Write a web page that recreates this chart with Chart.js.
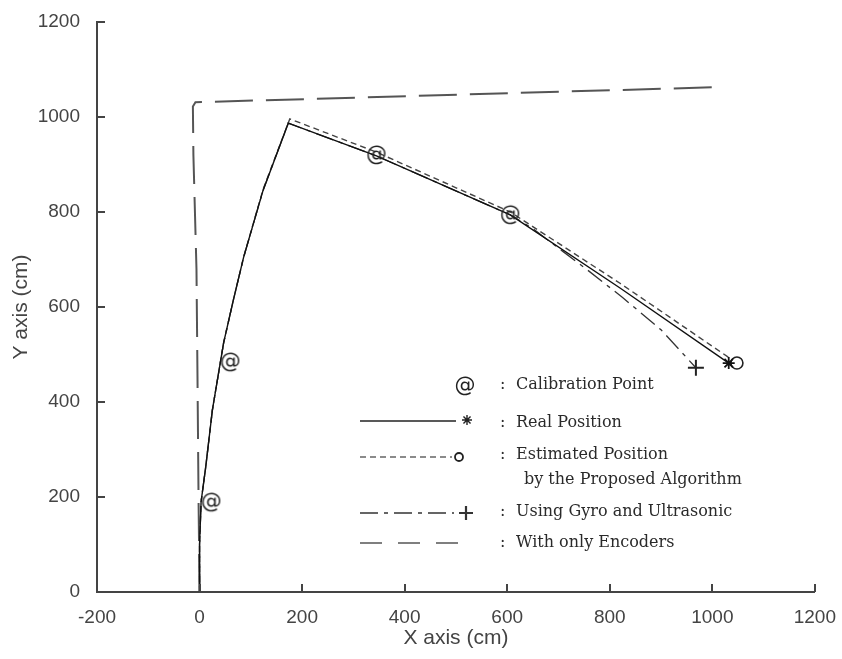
<!DOCTYPE html>
<html>
<head>
<meta charset="utf-8">
<script src="https://cdn.jsdelivr.net/npm/chart.js@4.4.1/dist/chart.umd.min.js"></script>
<style>
  html, body { margin: 0; padding: 0; background: #fff; }
</style>
</head>
<body>
<canvas id="myChart" width="842" height="659"></canvas>
<script>
// 軸の目盛り
const xTicks = [-200, 0, 200, 400, 600, 800, 1000, 1200];
const yTicks = [0, 200, 400, 600, 800, 1000, 1200];

// Calibration Point (@)
const calibX = [23, 60, 345, 606];
const calibY = [189, 484, 920, 794];

// Real Position (solid, *)
const realX = [0, 0, 3, 12, 25, 47, 66, 86, 124, 173, 345, 606, 820, 1032];
const realY = [0, 100, 190, 263, 383, 525, 615, 705, 846, 987, 918, 794, 640, 482];

// Estimated Position (dashed, o)
const estX = [0, 0, 3, 12, 25, 47, 66, 86, 124, 176, 345, 606, 820, 1048];
const estY = [0, 100, 190, 263, 383, 525, 615, 705, 848, 996, 926, 800, 650, 482];

// Using Gyro and Ultrasonic (dash-dot, +)
const gyroX = [0, 0, 3, 12, 25, 47, 66, 86, 124, 173, 345, 606, 650, 700, 760, 825, 900, 968];
const gyroY = [0, 100, 190, 263, 383, 525, 615, 705, 846, 987, 918, 794, 765, 724, 675, 620, 552, 472];

// With only Encoders (long dash)
const encX = [0, -2, -4, -6, -12, -13, -8, 1015];
const encY = [0, 200, 450, 680, 920, 1022, 1031, 1063];

// 凡例の文字
const legendTexts = [
  ['Calibration Point'],
  ['Real Position'],
  ['Estimated Position', 'by the Proposed Algorithm'],
  ['Using Gyro and Ultrasonic'],
  ['With only Encoders']
];

function pts(xs, ys) {
  return xs.map((v, i) => ({x: v, y: ys[i]}));
}

// 最後の点だけマーカーを出す
function lastOnly(r) {
  return ctx => ctx.dataIndex === ctx.dataset.data.length - 1 ? r : 0;
}

// @ マーカー用の小さいcanvas
function makeAt() {
  const c = document.createElement('canvas');
  c.width = 26; c.height = 26;
  const g = c.getContext('2d');
  g.fillStyle = '#222';
  g.font = '21px "DejaVu Sans"';
  g.textAlign = 'center';
  g.textBaseline = 'middle';
  g.fillText('@', 13, 14);
  return c;
}
const atMark = makeAt();

const DASH_EST = [6, 4];
const DASH_GYRO = [18, 6, 4, 6];
const DASH_ENC = [38, 13];

// 目盛りを内側に描く
const innerTicks = {
  id: 'innerTicks',
  afterDraw(chart) {
    const {ctx, chartArea: a, scales: {x, y}} = chart;
    ctx.save();
    ctx.strokeStyle = '#444';
    ctx.lineWidth = 2;
    ctx.beginPath();
    x.ticks.forEach(t => {
      const p = Math.round(x.getPixelForValue(t.value));
      ctx.moveTo(p, a.bottom); ctx.lineTo(p, a.bottom - 8);
    });
    y.ticks.forEach(t => {
      const p = Math.round(y.getPixelForValue(t.value));
      ctx.moveTo(a.left, p); ctx.lineTo(a.left + 8, p);
    });
    ctx.stroke();
    ctx.restore();
  }
};

// 図の中の凡例
const innerLegend = {
  id: 'innerLegend',
  afterDraw(chart) {
    const ctx = chart.ctx;
    const x0 = 360, x1 = 456, colonX = 500, textX = 516;
    const rows = [386, 421, 457, 513, 543];
    ctx.save();
    ctx.lineWidth = 1.4;

    // @
    ctx.drawImage(atMark, 465 - 13, rows[0] - 13);

    // real
    ctx.strokeStyle = '#222';
    ctx.setLineDash([]);
    ctx.beginPath(); ctx.moveTo(x0, rows[1]); ctx.lineTo(x1, rows[1]); ctx.stroke();
    Chart.helpers.drawPoint(ctx, {pointStyle: 'star', radius: 5, borderWidth: 1.6}, 467, rows[1] - 1);

    // estimated
    ctx.strokeStyle = '#666';
    ctx.lineWidth = 1.6;
    ctx.setLineDash(DASH_EST);
    ctx.beginPath(); ctx.moveTo(x0, rows[2]); ctx.lineTo(x1 - 4, rows[2]); ctx.stroke();
    ctx.setLineDash([]);
    ctx.strokeStyle = '#222';
    ctx.lineWidth = 1.8;
    ctx.beginPath(); ctx.arc(459, rows[2], 4, 0, Math.PI * 2); ctx.stroke();

    // gyro
    ctx.strokeStyle = '#333';
    ctx.lineWidth = 1.4;
    ctx.setLineDash(DASH_GYRO);
    ctx.beginPath(); ctx.moveTo(x0, rows[3]); ctx.lineTo(x1 - 2, rows[3]); ctx.stroke();
    ctx.setLineDash([]);
    ctx.lineWidth = 2.2;
    ctx.beginPath();
    ctx.moveTo(466, rows[3] - 7); ctx.lineTo(466, rows[3] + 7);
    ctx.moveTo(459, rows[3]); ctx.lineTo(473, rows[3]);
    ctx.stroke();

    // encoders
    ctx.lineWidth = 1.6;
    ctx.strokeStyle = '#555';
    ctx.setLineDash([22, 16]);
    ctx.beginPath(); ctx.moveTo(x0, rows[4]); ctx.lineTo(466, rows[4]); ctx.stroke();
    ctx.setLineDash([]);

    // 文字
    ctx.fillStyle = '#2a2a2a';
    ctx.font = '16px "DejaVu Serif"';
    ctx.textBaseline = 'middle';
    ctx.textAlign = 'left';
    const textY = [385, 423, 455, 512, 543];
    legendTexts.forEach((lines, i) => {
      ctx.fillText(':', colonX, textY[i]);
      ctx.fillText(lines[0], textX, textY[i]);
      if (lines[1]) ctx.fillText(lines[1], textX + 8, textY[i] + 25);
    });
    ctx.restore();
  }
};

const tickFont = {family: '"Liberation Sans", Arial, sans-serif', size: 19};
const titleFont = {family: '"Liberation Sans", Arial, sans-serif', size: 21};

new Chart(document.getElementById('myChart'), {
  type: 'scatter',
  data: {
    datasets: [
      {
        label: 'Calibration Point',
        data: pts(calibX, calibY),
        showLine: false,
        pointStyle: atMark,
        pointRadius: 10
      },
      {
        label: 'Real Position',
        data: pts(realX, realY),
        showLine: true,
        borderColor: '#111',
        backgroundColor: '#111',
        borderWidth: 1.4,
        pointStyle: 'star',
        pointRadius: lastOnly(6),
        pointBorderWidth: 1.8
      },
      {
        label: 'Estimated Position',
        data: pts(estX, estY),
        showLine: true,
        borderColor: '#444',
        borderWidth: 1.4,
        borderDash: DASH_EST,
        pointStyle: 'circle',
        pointRadius: lastOnly(6),
        pointBackgroundColor: '#fff',
        pointBorderColor: '#222',
        pointBorderWidth: 1.6
      },
      {
        label: 'Using Gyro and Ultrasonic',
        data: pts(gyroX, gyroY),
        showLine: true,
        borderColor: '#333',
        borderWidth: 1.3,
        borderDash: DASH_GYRO,
        pointStyle: 'cross',
        pointRadius: lastOnly(8),
        pointBorderColor: '#222',
        pointBorderWidth: 2
      },
      {
        label: 'With only Encoders',
        data: pts(encX, encY),
        showLine: true,
        borderColor: '#555',
        borderWidth: 2,
        borderDash: DASH_ENC,
        pointRadius: 0
      }
    ]
  },
  options: {
    responsive: false,
    animation: false,
    layout: {padding: {left: 0, right: 27, top: 22, bottom: 0}},
    plugins: {
      legend: {display: false},
      tooltip: {enabled: false}
    },
    scales: {
      x: {
        type: 'linear',
        min: -200,
        max: 1200,
        afterBuildTicks: s => { s.ticks = xTicks.map(v => ({value: v})); },
        afterFit: s => { s.height = 67; },
        grid: {display: false},
        border: {display: true, color: '#444', width: 2},
        ticks: {color: '#444', font: tickFont, padding: 6, maxRotation: 0, callback: v => String(v)},
        title: {display: true, text: 'X axis (cm)', color: '#444', font: titleFont, padding: {top: 0, bottom: 8}}
      },
      y: {
        type: 'linear',
        min: 0,
        max: 1200,
        afterBuildTicks: s => { s.ticks = yTicks.map(v => ({value: v})); },
        afterFit: s => { s.width = 97; },
        grid: {display: false},
        border: {display: true, color: '#444', width: 2},
        ticks: {color: '#444', font: tickFont, padding: 9, callback: v => String(v)},
        title: {display: true, text: 'Y axis (cm)', color: '#444', font: titleFont, padding: {top: 9, bottom: 0}}
      }
    }
  },
  plugins: [innerTicks, innerLegend]
});
</script>
</body>
</html>
